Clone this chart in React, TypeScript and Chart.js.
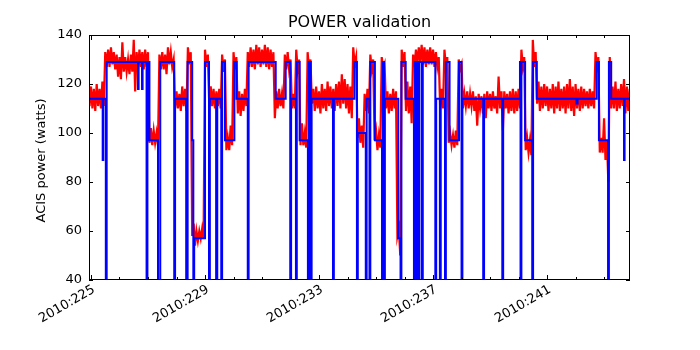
import React, { useEffect, useRef } from "react";
import { Chart, registerables } from "chart.js";

Chart.register(...registerables);

// ---- axis ----
const xMin = 224.93;
const xMax = 243.91;
const yMin = 40;
const yMax = 140;
const yStep = 20;
const xMajorTicks = [225, 229, 233, 237, 241];
const xTickLabels = ["2010:225", "2010:229", "2010:233", "2010:237", "2010:241"];
const xMinorTicks = [225, 226, 227, 228, 229, 230, 231, 232, 233, 234, 235, 236, 237, 238, 239, 240, 241, 242, 243];
const chartTitle = "POWER validation";
const yAxisTitle = "ACIS power (watts)";

// ---- model (blue, stepped) : value holds from each time ----
const modelTimes = [
  224.9, 225.41, 225.43, 225.52, 225.55, 226.65, 226.67, 226.79, 226.81, 226.95,
  226.98, 227.05, 227.35, 227.43, 227.92, 227.95, 228.34, 228.39, 228.55, 228.59,
  228.62, 229.0, 229.14, 229.17, 229.39, 229.43, 229.57, 229.6, 229.7, 230.03,
  230.11, 230.5, 230.53, 231.48, 231.83, 231.99, 232.02, 232.19, 232.22, 232.32,
  232.61, 232.64, 232.71, 232.74, 233.49, 233.52, 234.24, 234.33, 234.36, 234.64,
  234.67, 234.77, 234.8, 234.96, 235.21, 235.24, 235.28, 235.31, 235.78, 235.86,
  235.89, 236.04, 236.33, 236.36, 236.41, 236.44, 236.49, 236.52, 236.61, 236.64,
  237.08, 237.11, 237.24, 237.27, 237.42, 237.45, 237.58, 237.91, 238.0, 238.03,
  238.76, 238.79, 239.43, 239.46, 240.05, 240.07, 240.1, 240.23, 240.48, 240.51,
  240.64, 242.03, 242.07, 242.74, 242.82, 243.14, 243.17, 243.25, 243.7, 243.72,
  243.95,
];
const modelPower = [
  114, 89, 114, 0, 129, 118, 129, 118, 129, 0,
  129, 97, 0, 129, 0, 114, 0, 129, 97, 0,
  57, 129, 0, 114, 0, 114, 0, 129, 97, 129,
  114, 0, 129, 114, 129, 0, 114, 0, 129, 97,
  0, 129, 0, 114, 0, 114, 129, 0, 100, 0,
  114, 0, 129, 97, 0, 129, 0, 114, 57, 0,
  129, 114, 0, 129, 0, 129, 0, 129, 0, 129,
  0, 114, 0, 114, 0, 129, 97, 129, 0, 114,
  0, 114, 0, 114, 129, 0, 129, 97, 0, 129,
  114, 112, 114, 129, 97, 0, 129, 114, 89, 114,
  114,
];

// ---- measured (red): sampled every 0.1 day from 224.9, high / low of the trace in each sample ----
const measuredStart = 224.9;
const measuredStep = 0.1;
const measuredHigh = [
  117, 119, 118, 120, 118, 121, 133, 134, 135, 133,
  132, 131, 137, 131, 130, 132, 138, 133, 134, 133,
  134, 133, 102, 101, 100, 132, 133, 132, 135, 133,
  130, 117, 116, 119, 118, 135, 133, 63, 60, 60,
  61, 134, 132, 119, 118, 117, 118, 132, 130, 98,
  103, 133, 131, 117, 116, 118, 133, 135, 134, 136,
  135, 134, 136, 135, 134, 133, 117, 118, 116, 132,
  133, 130, 116, 134, 130, 104, 100, 133, 130, 118,
  119, 117, 120, 118, 121, 119, 118, 120, 121, 124,
  122, 120, 119, 135, 131, 106, 103, 116, 118, 132,
  130, 101, 99, 131, 128, 117, 116, 118, 117, 61,
  134, 133, 121, 119, 132, 134, 135, 136, 135, 134,
  135, 134, 133, 131, 118, 134, 131, 100, 99, 101,
  130, 128, 116, 117, 116, 117, 115, 116, 115, 116,
  117, 116, 117, 115, 123, 117, 117, 116, 117, 118,
  117, 118, 134, 131, 98, 97, 138, 133, 121, 119,
  120, 119, 118, 120, 119, 121, 118, 119, 120, 122,
  119, 120, 118, 119, 118, 117, 118, 117, 133, 131,
  98, 106, 97, 131, 119, 121, 118, 120, 122, 119,
  118,
];
const measuredLow = [
  111, 110, 109, 111, 110, 111, 127, 127, 128, 126,
  123, 122, 125, 125, 124, 125, 117, 126, 127, 126,
  127, 96, 95, 96, 95, 126, 126, 124, 128, 127,
  110, 110, 109, 111, 109, 128, 58, 54, 56, 57,
  57, 127, 111, 111, 110, 111, 110, 125, 93, 93,
  95, 126, 108, 107, 109, 111, 127, 127, 126, 128,
  127, 128, 127, 126, 127, 106, 110, 111, 110, 126,
  126, 110, 110, 126, 95, 95, 94, 126, 112, 109,
  110, 108, 110, 109, 111, 110, 109, 111, 110, 112,
  110, 108, 106, 128, 98, 96, 94, 109, 108, 126,
  97, 93, 94, 126, 110, 108, 109, 110, 58, 50,
  127, 109, 108, 104, 127, 128, 129, 128, 127, 128,
  128, 127, 127, 110, 110, 127, 96, 95, 94, 95,
  126, 110, 111, 110, 111, 109, 103, 110, 108, 106,
  110, 109, 110, 108, 110, 101, 110, 108, 109, 108,
  109, 110, 127, 93, 92, 91, 127, 112, 109, 110,
  111, 109, 110, 108, 110, 109, 110, 108, 110, 109,
  107, 110, 109, 110, 111, 110, 111, 110, 127, 92,
  92, 89, 80, 110, 110, 109, 110, 111, 108, 109,
  110,
];

const FONT = '"DejaVu Sans", "Liberation Sans", sans-serif';

const decorPlugin = {
  id: "mplDecor",
  afterDatasetsDraw(chart: any) {
    const { ctx, chartArea: ca, scales } = chart;
    const xs = scales.x;
    const ys = scales.y;
    ctx.save();
    ctx.strokeStyle = "#000";
    ctx.lineWidth = 1;
    ctx.strokeRect(ca.left + 0.5, ca.top + 0.5, ca.right - ca.left - 1, ca.bottom - ca.top - 1);
    ctx.beginPath();
    for (const t of ys.ticks) {
      const py = Math.round(ys.getPixelForValue(t.value)) + 0.5;
      ctx.moveTo(ca.left, py);
      ctx.lineTo(ca.left + 4, py);
      ctx.moveTo(ca.right, py);
      ctx.lineTo(ca.right - 4, py);
    }
    for (const v of xMinorTicks) {
      const px = Math.round(xs.getPixelForValue(v)) + 0.5;
      const len = xMajorTicks.includes(v) ? 5 : 3;
      ctx.moveTo(px, ca.bottom);
      ctx.lineTo(px, ca.bottom - len);
      ctx.moveTo(px, ca.top);
      ctx.lineTo(px, ca.top + len);
    }
    ctx.stroke();
    ctx.fillStyle = "#000";
    ctx.font = `16px ${FONT}`;
    ctx.textAlign = "center";
    ctx.textBaseline = "middle";
    ctx.fillText(chartTitle, (ca.left + ca.right) / 2, 23);
    ctx.font = `13px ${FONT}`;
    ctx.translate(42, (ca.top + ca.bottom) / 2 + 3);
    ctx.rotate(-Math.PI / 2);
    ctx.fillText(yAxisTitle, 0, 0);
    ctx.restore();
  },
};

export default function App() {
  const ref = useRef<HTMLCanvasElement | null>(null);

  useEffect(() => {
    if (!ref.current) return;
    const modelData = modelTimes.map((t, i) => ({ x: t, y: modelPower[i] }));
    const measuredData: { x: number; y: number }[] = [];
    measuredHigh.forEach((h, i) => {
      const t = measuredStart + i * measuredStep;
      measuredData.push({ x: t, y: h });
      measuredData.push({ x: t + measuredStep / 2, y: measuredLow[i] });
    });

    const chart = new Chart(ref.current, {
      type: "line",
      data: {
        datasets: [
          {
            label: "model",
            data: modelData,
            borderColor: "#0000ff",
            borderWidth: 2,
            pointRadius: 0,
            stepped: true,
            fill: false,
          },
          {
            label: "measured",
            data: measuredData,
            borderColor: "#ff0000",
            borderWidth: 2.2,
            pointRadius: 0,
            fill: false,
          },
        ],
      },
      options: {
        animation: false,
        responsive: false,
        devicePixelRatio: 1,
        layout: { padding: { top: 35, right: 70, left: 0, bottom: 0 } },
        plugins: {
          legend: { display: false },
          tooltip: { enabled: false },
          title: { display: false },
        },
        scales: {
          x: {
            type: "linear",
            min: xMin,
            max: xMax,
            grid: { display: false, drawTicks: false },
            border: { display: false },
            afterBuildTicks: (scale: any) => {
              scale.ticks = xMajorTicks.map((v) => ({ value: v }));
            },
            afterFit: (scale: any) => {
              scale.height = 70;
            },
            ticks: {
              autoSkip: false,
              minRotation: 30,
              maxRotation: 30,
              padding: 2,
              labelOffset: 3,
              color: "#000",
              font: { family: FONT, size: 13 },
              callback: (v: any) => xTickLabels[xMajorTicks.indexOf(Number(v))] ?? "",
            },
          },
          y: {
            min: yMin,
            max: yMax,
            grid: { display: false, drawTicks: false },
            border: { display: false },
            afterFit: (scale: any) => {
              scale.width = 89;
            },
            ticks: {
              stepSize: yStep,
              padding: 7,
              color: "#000",
              font: { family: FONT, size: 13 },
            },
          },
        },
      },
      plugins: [decorPlugin],
    });
    return () => chart.destroy();
  }, []);

  return (
    <div style={{ position: "absolute", left: 0, top: 0, width: 700, height: 350, background: "#fff" }}>
      <canvas ref={ref} width={700} height={350} style={{ display: "block", width: 700, height: 350 }} />
    </div>
  );
}
